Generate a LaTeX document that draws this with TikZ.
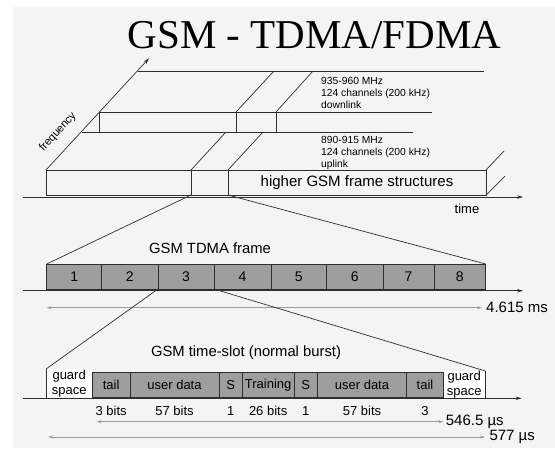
\documentclass[tikz,border=0pt]{standalone}
\usepackage{fontspec}
\setmainfont{Liberation Sans}
\newfontfamily\titlefont{Liberation Serif}
\usetikzlibrary{arrows.meta}
\definecolor{linec}{HTML}{2E2E2E}
\definecolor{cellc}{HTML}{9E9E9E}
\definecolor{dimc}{HTML}{9A9A9A}
\definecolor{bgc}{HTML}{F4F4F4}
\newcommand\fs[2]{\fontsize{#1}{#2}\selectfont}

\begin{document}
\begin{tikzpicture}[x=1pt, y=-1pt,
        line/.style = {draw=linec, line width=0.7pt},
        box/.style = {line, rectangle, inner sep=0pt, outer sep=0pt, anchor=south west},
        cell/.style = {box, fill=cellc, minimum height=25pt, font=\fs{14}{16}},
        slot/.style = {box, fill=cellc, minimum height=25.7pt, font=\fs{13}{15}},
        bitlbl/.style = {inner sep=0pt, font=\fs{13}{15}},
        guard/.style = {rectangle, fill=white, inner sep=0pt, outer sep=0pt, anchor=south west, align=center, font=\fs{13}{15}},
        axis/.style = {line, -{Stealth[length=6pt, width=3.5pt]}},
        dim/.style = {draw=dimc, line width=0.6pt, {Stealth[length=5pt, width=3pt]}-{Stealth[length=5pt, width=3pt]}},
        small/.style = {align=left, anchor=west, inner sep=0pt, font=\fs{10.3}{12}},
        heading/.style = {inner sep=0pt, font=\fs{14.8}{17}},
        unit/.style = {anchor=west, inner sep=0pt, font=\fs{15}{18}}
    ]
    \useasboundingbox (0,0) rectangle (555,448);
    \fill[white] (0,0) rectangle (555,448);
    \fill[bgc] (13,7) rectangle (555,448);

    % ================= TITLE =================
    \node[anchor=base, inner sep=0pt, font=\titlefont\fs{41}{46}] (title) at (314.7,48.3) {GSM - TDMA/FDMA};

    % ================= FDMA: FREQUENCY / TIME =================
    \node[box, minimum width=145pt, minimum height=25pt] (fA) at (46,195) {};
    \node[box, minimum width=37pt, minimum height=25pt] (fB) at (191,195) {};
    \node[box, minimum width=258pt, minimum height=25pt, font=\fs{15}{18}] (fC) at (228,195) {higher GSM frame structures};
    %
    \draw[line] (fC.north east) -- ++(18,-19);
    \draw[line] (fC.south east) -- ++(19,-19);
    % second band
    \draw[line] (99,112) -- (432,112);
    \draw[line] (82,132) -- (413,132);
    \draw[line] (99,112) -- (99,132);
    \draw[line] (236,112) -- (236,132);
    \draw[line] (276,112) -- (276,132);
    % third band
    \draw[line] (138,71) -- (484,71);
    % slanted edges
    \draw[line] (fB.north west) -- (226,132);
    \draw[line] (fB.north east) -- (263,132);
    \draw[line] (236,112) -- (274,71);
    \draw[line] (276,112) -- (313,71);
    %
    \node[small] (down) at (321,93) {935-960 MHz\\124 channels (200 kHz)\\downlink};
    \node[small] (up) at (321,153) {890-915 MHz\\124 channels (200 kHz)\\uplink};
    %
    \coordinate (fq) at (149,58.3);
    \draw[axis] (fA.north west) -- (fq);
    \node[rotate=47.4, inner sep=0pt, font=\fs{11}{13}] (freq) at (58,132) {frequency};
    %
    \coordinate (t1s) at (22.7,197);
    \coordinate (t1e) at (523,197);
    \draw[axis] (t1s) -- (t1e);
    \node[inner sep=0pt, font=\fs{13}{15}] (time) at (467,209) {time};

    % ================= TDMA FRAME =================
    \node[heading] (framehd) at (210,248.3) {GSM TDMA frame};
    \foreach \a/\b/\n in {46.7/101.7/1, 101.7/158/2, 158/214/3, 214/271/4,
                          271/326.7/5, 326.7/383/6, 383/434/7, 434/485.7/8}
        \node[cell, minimum width={(\b-\a)*1pt}] (c\n) at (\a,289) {\n};
    %
    \coordinate (t2s) at (22.7,290.7);
    \coordinate (t2e) at (523,290.7);
    \draw[axis] (t2s) -- (t2e);
    %
    \node[unit] (tms) at (486,307.7) {4.615 ms};
    \draw[dim] (c1.south west |- tms.west) -- ([xshift=-4pt]tms.west);
    %
    \draw[line] (fB.south west) -- (c1.north west);
    \draw[line] (fB.south east) -- (c8.north east);

    % ================= TIME SLOT =================
    \node[heading] (slothd) at (246,352.7) {GSM time-slot (normal burst)};
    \node[guard, minimum width=46.3pt, minimum height=29pt] (gL) at (46,398) {guard\\space};
    \node[guard, minimum width=41.7pt, minimum height=26.3pt] (gR) at (443.3,398) {guard\\space};
    \draw[line] (gL.south west) -- (gL.north west);
    \draw[line] (gR.south east) -- (gR.north east);
    %
    \foreach \a/\b/\nm/\txt/\bits in {92.3/130/ta1/tail/3 bits, 130/219/ud1/user data/57 bits,
                                      219/242.3/s1/S/1, 242.3/294/tr/Training/26 bits,
                                      294/317.3/s2/S/1, 317.3/406.7/ud2/user data/57 bits,
                                      406.7/443.3/ta2/tail/3}
    {
        \node[slot, minimum width={(\b-\a)*1pt}] (\nm) at (\a,397.7) {\txt};
        \node[bitlbl] (\nm-bits) at ([yshift=-13.5pt]\nm.south) {\bits};
    }
    %
    \coordinate (t3s) at (22.7,398.3);
    \coordinate (t3e) at (521.7,398.3);
    \draw[axis] (t3s) -- (t3e);
    %
    \draw[line] (c3.south west) -- (gL.north west);
    \draw[line] (c3.south east) -- (gR.north east);
    %
    \node[unit] (tburst) at (445.7,421.7) {546.5 µs};
    \draw[dim] ([xshift=4.4pt]ta1.south west |- tburst.west) -- ([xshift=-2.4pt]tburst.west);
    \node[unit] (tslot) at (489.3,437) {577 µs};
    \draw[dim] ([xshift=2.3pt]gL.south west |- tslot.west) -- ([xshift=-4.3pt]tslot.west);
\end{tikzpicture}
\end{document}
